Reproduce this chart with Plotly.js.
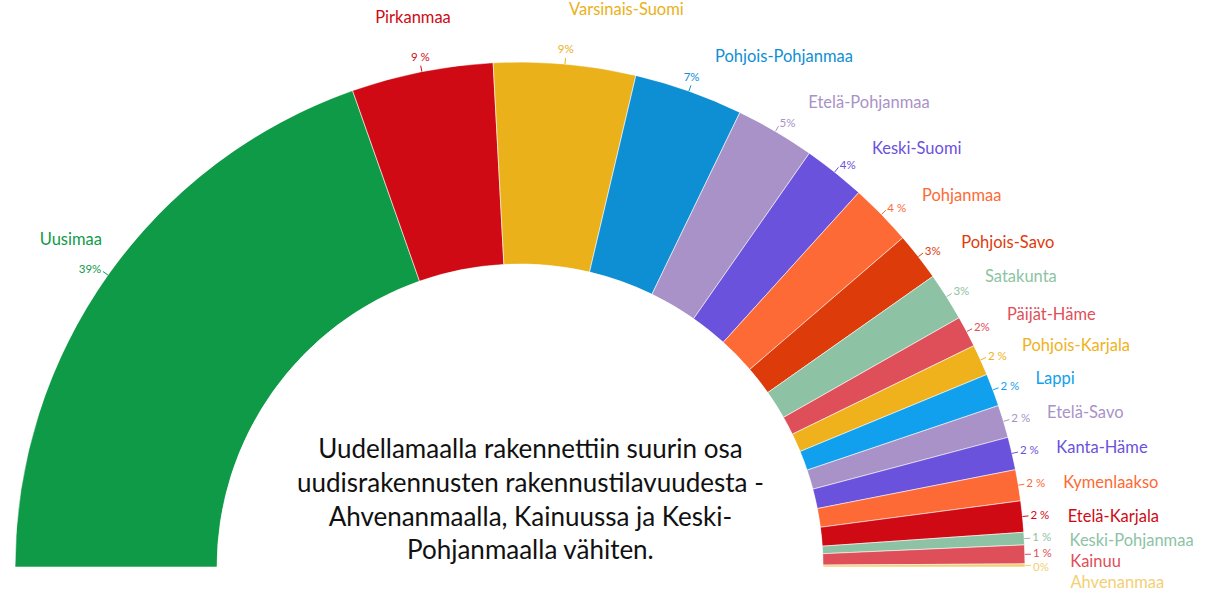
<!DOCTYPE html>
<html>
<head>
<meta charset="utf-8">
<script src="https://cdn.plot.ly/plotly-3.0.1.min.js"></script>
<style>html,body{margin:0;padding:0;background:#fff;}#chart{width:1212px;height:593px;}</style>
</head>
<body>
<div id="chart"></div>
<script>
const regions = ["Uusimaa","Pirkanmaa","Varsinais-Suomi","Pohjois-Pohjanmaa","Etelä-Pohjanmaa","Keski-Suomi","Pohjanmaa","Pohjois-Savo","Satakunta","Päijät-Häme","Pohjois-Karjala","Lappi","Etelä-Savo","Kanta-Häme","Kymenlaakso","Etelä-Karjala","Keski-Pohjanmaa","Kainuu","Ahvenanmaa"];
const shares = [39.4, 9.1, 9.1, 7.0, 5.1, 4.0, 4.0, 3.1, 3.1, 2.0, 2.0, 2.1, 2.1, 2.1, 2.0, 2.0, 0.8, 1.2, 0.2];
const pctLabels = ["39%","9 %","9%","7%","5%","4%","4 %","3%","3%","2%","2 %","2 %","2 %","2 %","2 %","2 %","1 %","1 %","0%"];
const colors = ["#0f9a48","#cf0a14","#ebb11a","#0e8fd4","#a992c8","#6b52dc","#fd6a36","#de3b0b","#8dc3a4","#df4f59","#f0b21c","#11a0ee","#a992c8","#6b52dc","#fd6a36","#cf0a14","#8dc3a4","#df4f59","#f3cf74"];

const FONT = "Lato, 'Open Sans', sans-serif";
const W = 1212, H = 593;
// pie geometry in pixels: centre and outer radius
const CX = 520, CY = 567, R = 505;

const total = shares.reduce((a,b)=>a+b,0);
let start = 180;
const centers = [], widths = [];
shares.forEach(v => {
  const w = v / total * 180;
  widths.push(w);
  centers.push(start - w/2);
  start -= w;
});
const rad = d => d * Math.PI / 180;
const px = (r, t) => r * Math.cos(rad(t));
const py = (r, t) => r * Math.sin(rad(t));

// keep right-side labels from colliding: push each one down below the previous
function spread(ys, angles, gapPx) {
  const out = ys.slice();
  for (let i = 1; i < out.length; i++) {
    if (angles[i] < 75 && angles[i-1] < 75 && out[i] > out[i-1] - gapPx / R) out[i] = out[i-1] - gapPx / R;
  }
  return out;
}

const traces = [];
traces.push({
  type: 'barpolar',
  r: shares.map(()=>1),
  base: shares.map(()=>0),
  theta: centers,
  width: widths,
  marker: {color: colors, line: {color: 'rgba(255,255,255,0.7)', width: 0.8}},
  text: regions,
  hoverinfo: 'text'
});

// leader lines (cartesian overlay in pie-radius units)
centers.forEach((c,i) => {
  traces.push({
    type: 'scatter', mode: 'lines', xaxis: 'x', yaxis: 'y',
    x: [px(1.0, c), px(1.012, c)], y: [py(1.0, c), py(1.012, c)],
    line: {color: colors[i], width: 1},
    hoverinfo: 'skip'
  });
});
const pctPos = centers.map(c => c > 120 ? 'middle left' : c > 62 ? 'top center' : 'middle right');
const pctR = 1.016;
traces.push({
  type: 'scatter', mode: 'text', xaxis: 'x', yaxis: 'y',
  x: centers.map(c => px(pctR, c)),
  y: spread(centers.map(c => py(pctR, c)), centers, 14),
  text: pctLabels, textposition: pctPos,
  textfont: {family: FONT, size: 11.5, color: colors},
  hoverinfo: 'skip'
});
const nameAng = centers.map(c => (c > 35 && c < 75) ? c - 1.2 : c);
const namePos = centers.map(c => c > 90 ? 'top center' : c > 75 ? 'top right' : 'middle right');
const nameY0 = nameAng.map((c,i) => py(1.09, c) - (centers[i] < 75 ? 6 / R : 0));
traces.push({
  type: 'scatter', mode: 'text', xaxis: 'x', yaxis: 'y',
  x: nameAng.map(c => px(1.09, c)),
  y: spread(nameY0, centers, 21),
  text: regions, textposition: namePos,
  textfont: {family: FONT, size: 16.5, color: colors},
  hoverinfo: 'skip'
});

const hiddenAxis = {visible: false, showgrid: false, zeroline: false, fixedrange: true};
const layout = {
  width: W, height: H,
  margin: {l: 0, r: 0, t: 0, b: 0},
  paper_bgcolor: '#fff',
  plot_bgcolor: 'rgba(0,0,0,0)',
  showlegend: false,
  font: {family: FONT},
  xaxis: Object.assign({domain: [0,1], range: [-CX / R, (W - CX) / R]}, hiddenAxis),
  yaxis: Object.assign({domain: [0,1], range: [-(H - CY) / R, CY / R]}, hiddenAxis),
  polar: {
    domain: {x: [(CX - R) / W, (CX + R) / W], y: [(H - CY) / H, (H - CY + R) / H]},
    sector: [0, 180],
    hole: 0.6,
    bargap: 0,
    bgcolor: 'rgba(0,0,0,0)',
    radialaxis: {range: [0,1], visible: false, showgrid: false},
    angularaxis: {visible: false, showgrid: false, direction: 'counterclockwise', rotation: 0}
  },
  annotations: [{
    xref: 'paper', yref: 'paper', x: 530 / W, y: (H - 498) / H,
    xanchor: 'center', yanchor: 'middle', showarrow: false,
    text: 'Uudellamaalla rakennettiin suurin osa<br>uudisrakennusten rakennustilavuudesta -<br>Ahvenanmaalla, Kainuussa ja Keski-<br>Pohjanmaalla vähiten.',
    font: {family: FONT, size: 26, color: '#111'},
    align: 'center'
  }]
};
Plotly.newPlot('chart', traces, layout, {displayModeBar: false, staticPlot: true});
</script>
</body>
</html>
